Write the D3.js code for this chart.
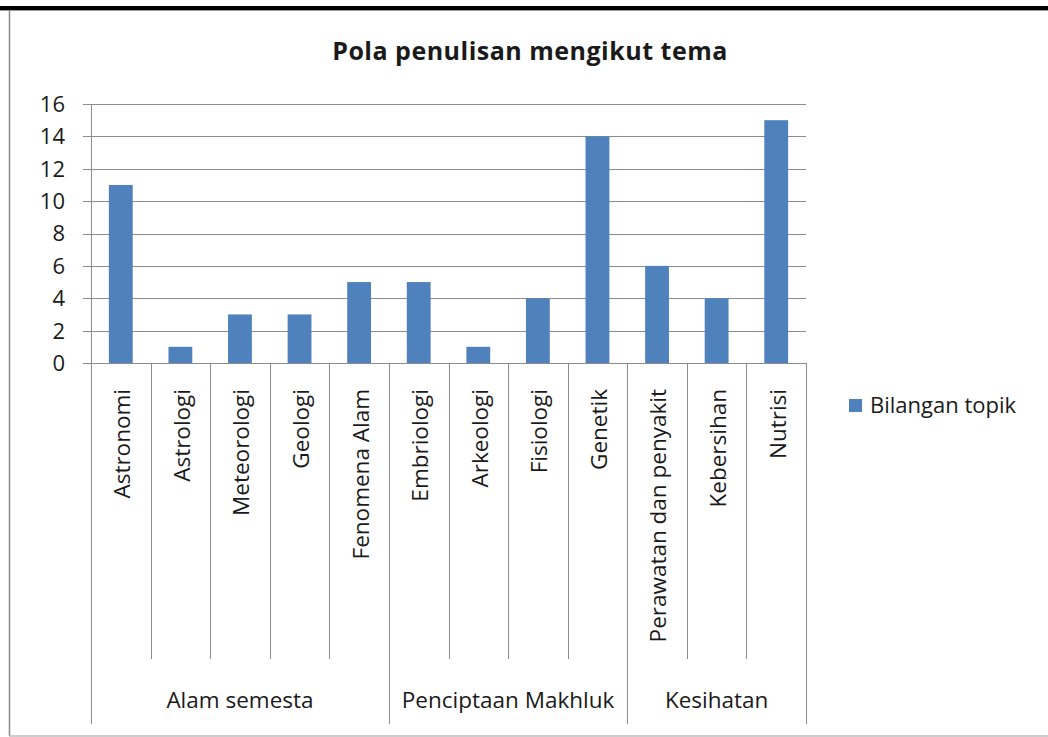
<!DOCTYPE html>
<html>
<head>
<meta charset="utf-8">
<script src="https://cdn.jsdelivr.net/npm/d3@7"></script>
<style>
  body { margin: 0; background: #fff; }
  text { font-family: "Open Sans", Lato, sans-serif; fill: #1a1a1a; }
</style>
</head>
<body>
<script>
// data
var categories = ["Astronomi", "Astrologi", "Meteorologi", "Geologi", "Fenomena Alam",
  "Embriologi", "Arkeologi", "Fisiologi", "Genetik",
  "Perawatan dan penyakit", "Kebersihan", "Nutrisi"];
var values = [11, 1, 3, 3, 5, 5, 1, 4, 14, 6, 4, 15];
var groups = ["Alam semesta", "Penciptaan Makhluk", "Kesihatan"];
var groupSizes = [5, 4, 3];
var yTicks = [0, 2, 4, 6, 8, 10, 12, 14, 16];
var seriesName = "Bilangan topik";

var W = 1048, H = 737;
var plot = {left: 91, right: 806, top: 104, bottom: 363};

var svg = d3.select("body").append("svg")
  .attr("width", W)
  .attr("height", H);

// frame
svg.append("rect").attr("x", 0).attr("y", 6).attr("width", W).attr("height", 4).attr("fill", "#000");
svg.append("line").attr("x1", 0).attr("x2", W).attr("y1", 10.5).attr("y2", 10.5).attr("stroke", "#9a9a9a");
svg.append("line").attr("x1", 9.5).attr("x2", 9.5).attr("y1", 10).attr("y2", 736).attr("stroke", "#8a8a8a").attr("stroke-width", 1.5);
svg.append("line").attr("x1", 9).attr("x2", W).attr("y1", 736).attr("y2", 736).attr("stroke", "#bdbdbd").attr("stroke-width", 1.5);

var x = d3.scaleBand()
  .domain(categories)
  .range([plot.left, plot.right])
  .paddingInner(0)
  .paddingOuter(0);

var y = d3.scaleLinear()
  .domain([0, 16])
  .range([plot.bottom, plot.top]);

// gridlines
svg.append("g").selectAll("line")
  .data(yTicks)
  .enter().append("line")
  .attr("x1", plot.left - 8)
  .attr("x2", plot.right)
  .attr("y1", function(d){ return Math.round(y(d)) + 0.5; })
  .attr("y2", function(d){ return Math.round(y(d)) + 0.5; })
  .attr("stroke", "#8c8c8c")
  .attr("stroke-width", 1);

// y labels
svg.append("g").selectAll("text")
  .data(yTicks)
  .enter().append("text")
  .attr("x", 65)
  .attr("y", function(d){ return y(d); })
  .attr("dy", "0.36em")
  .attr("text-anchor", "end")
  .style("font-size", "22px")
  .text(function(d){ return d; });

// y axis line
svg.append("line")
  .attr("x1", plot.left + 0.5).attr("x2", plot.left + 0.5)
  .attr("y1", plot.top).attr("y2", 724)
  .attr("stroke", "#8c8c8c");

// bars
var bw = x.bandwidth() / 2.5;
svg.append("g").selectAll("rect")
  .data(values)
  .enter().append("rect")
  .attr("x", function(d, i){ return x(categories[i]) + (x.bandwidth() - bw) / 2; })
  .attr("y", function(d){ return y(d); })
  .attr("width", bw)
  .attr("height", function(d){ return y(0) - y(d); })
  .attr("fill", "#4f81bd");

// category separators
var cum = [0];
groupSizes.forEach(function(s){ cum.push(cum[cum.length - 1] + s); });
var bounds = d3.range(1, categories.length + 1);
svg.append("g").selectAll("line")
  .data(bounds)
  .enter().append("line")
  .attr("x1", function(i){ return Math.round(plot.left + i * x.bandwidth()) + 0.5; })
  .attr("x2", function(i){ return Math.round(plot.left + i * x.bandwidth()) + 0.5; })
  .attr("y1", plot.bottom)
  .attr("y2", function(i){ return cum.indexOf(i) >= 0 ? 724 : 659; })
  .attr("stroke", "#8c8c8c");

// category labels
svg.append("g").selectAll("text")
  .data(categories)
  .enter().append("text")
  .attr("transform", function(d){ return "translate(" + (x(d) + x.bandwidth() / 2) + ",389) rotate(-90)"; })
  .attr("dy", "0.42em")
  .attr("text-anchor", "end")
  .style("font-size", "22.5px")
  .text(function(d){ return d; });

// group labels
svg.append("g").selectAll("text")
  .data(groups)
  .enter().append("text")
  .attr("x", function(d, i){ return plot.left + (cum[i] + cum[i + 1]) / 2 * x.bandwidth(); })
  .attr("y", 708)
  .attr("text-anchor", "middle")
  .style("font-size", "22.5px")
  .text(function(d){ return d; });

// title
svg.append("text")
  .attr("x", 530)
  .attr("y", 60)
  .attr("text-anchor", "middle")
  .style("font-size", "25px")
  .style("font-weight", "bold")
  .style("letter-spacing", "0.5px")
  .text("Pola penulisan mengikut tema");

// legend
var lg = svg.append("g").attr("transform", "translate(849,399)");
lg.append("rect").attr("width", 13).attr("height", 13).attr("fill", "#4f81bd");
lg.append("text").attr("x", 21).attr("y", 6.5).attr("dy", "0.36em")
  .style("font-size", "22px").text(seriesName);
</script>
</body>
</html>
